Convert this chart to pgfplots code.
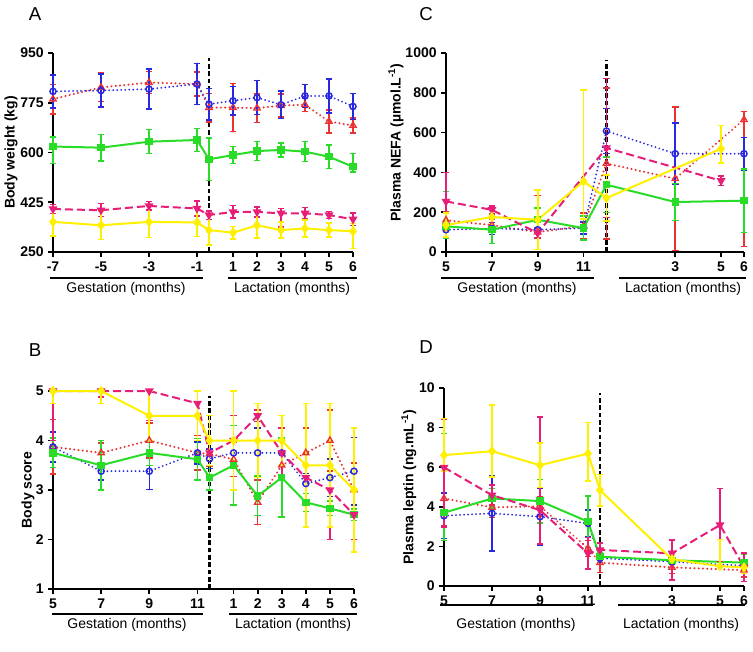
\documentclass[border=0pt]{standalone}
\usepackage{fontspec}
\setmainfont{Liberation Sans}
\usepackage{pgfplots}
\pgfplotsset{compat=1.18}
\definecolor{cblue}{RGB}{40,40,225}
\definecolor{cred}{RGB}{235,50,50}
\definecolor{cgreen}{RGB}{40,220,40}
\definecolor{cpink}{RGB}{230,30,120}
\definecolor{cyellow}{RGB}{255,240,0}
\pgfplotsset{
  gp/.style={scale only axis, anchor=south west, axis lines=left,
    axis line style={-, line width=1.5pt, black},
    tick align=outside, major tick length=3.5pt,
    tick style={black, line width=1.3pt},
    ticklabel style={font=\fontsize{10.5}{12}\selectfont\bfseries},
    /pgf/number format/assume math mode=true, /pgf/number format/1000 sep={},
    clip=false,
    every axis y label/.style={rotate=90, anchor=center, font=\fontsize{10.5}{12}\selectfont\bfseries}},
  ser/.style={color=#1, line width=1.5pt,
    error bars/y dir=both, error bars/y explicit,
    error bars/error bar style={line width=1.2pt, solid, color=#1},
    error bars/error mark options={rotate=90, mark size=2.5pt, line width=1.1pt, solid, color=#1}},
  sblue/.style={ser=cblue, dash pattern=on 0.01pt off 3pt, line cap=round, mark=o, mark size=2.3pt, mark options={solid, fill=white, line width=1.1pt}},
  sred/.style={ser=cred, line width=1.7pt, dash pattern=on 0.01pt off 3.2pt, line cap=round, mark=triangle, mark size=2.7pt, mark options={solid, fill=white, line width=1.0pt}},
  sgreen/.style={ser=cgreen, mark=square*, mark size=2pt, mark options={solid}},
  spink/.style={ser=cpink, dash pattern=on 6pt off 3pt, mark=triangle*, mark size=2.4pt, mark options={solid, rotate=180}},
  syellow/.style={ser=cyellow, mark=diamond*, mark size=2.7pt, mark options={solid},
    error bars/error bar style={line width=1.3pt, solid, color=cyellow}},
  vline/.style={black, line width=1.9pt, dash pattern=on 3.5pt off 2pt, mark=none},
}
\begin{document}
\begin{tikzpicture}
\path[use as bounding box] (0,0) rectangle (564.75pt,488.25pt);
% ---------------- A ----------------
\begin{axis}[gp, at={(39.75pt,299.25pt)}, width=225pt, height=149.25pt,
  xmin=0, xmax=12.5, ymin=250, ymax=950, ytick={250,425,600,775,950},
  xtick={0,2,4,6,7.5,8.5,9.5,10.5,11.5,12.5}, xticklabels={-7,-5,-3,-1,1,2,3,4,5,6},
  ylabel={Body weight (kg)}, ylabel style={at={(axis description cs:-0.14,0.5)}}]
\addplot[vline] coordinates {(6.5,250) (6.5,933)};
\addplot[sred] coordinates {(0,788)+-(0,52) (2,829)+-(0,50) (4,846)+-(0,38) (6,841)+-(0,42) (6.5,758)+-(0,50) (7.5,758)+-(0,85) (8.5,756)+-(0,50) (9.5,765)+-(0,40) (10.5,768)+-(0,24) (11.5,709)+-(0,40) (12.5,695)+-(0,26)};
\addplot[sblue] coordinates {(0,815)+-(0,58) (2,818)+-(0,58) (4,823)+-(0,70) (6,841)+-(0,72) (6.5,770)+-(0,55) (7.5,782)+-(0,50) (8.5,793)+-(0,60) (9.5,768)+-(0,48) (10.5,799)+-(0,40) (11.5,799)+-(0,60) (12.5,762)+-(0,45)};
\addplot[sgreen] coordinates {(0,621)+=(0,33)-=(0,60) (2,617)+-(0,47) (4,638)+-(0,42) (6,644)+-(0,40) (6.5,576)+-(0,75) (7.5,591)+-(0,30) (8.5,605)+-(0,33) (9.5,609)+-(0,25) (10.5,603)+-(0,35) (11.5,585)+-(0,42) (12.5,550)+=(0,47)-=(0,18)};
\addplot[spink] coordinates {(0,401)+-(0,16) (2,397)+-(0,23) (4,412)+-(0,15) (6,403)+-(0,26) (6.5,380)+-(0,15) (7.5,391)+-(0,22) (8.5,391)+-(0,18) (9.5,386)+=(0,17)-=(0,48) (10.5,386)+-(0,20) (11.5,380)+-(0,13) (12.5,365)+-(0,22)};
\addplot[syellow] coordinates {(0,356)+-(0,50) (2,344)+-(0,50) (4,356)+-(0,55) (6,354)+-(0,50) (6.5,327)+-(0,52) (7.5,318)+-(0,22) (8.5,344)+-(0,45) (9.5,327)+-(0,28) (10.5,333)+-(0,30) (11.5,327)+-(0,25) (12.5,323)+=(0,27)-=(0,61)};
\end{axis}
% ---------------- C ----------------
\begin{axis}[gp, at={(334.5pt,299.25pt)}, width=223.5pt, height=149.25pt,
  xmin=0, xmax=13, ymin=0, ymax=1000, ytick={0,200,400,600,800,1000},
  xtick={0,2,4,6,10,12,13}, xticklabels={5,7,9,11,3,5,6},
  ylabel={Plasma NEFA (µmol.L\textsuperscript{-1})}, ylabel style={at={(axis description cs:-0.168,0.55)}}]
\addplot[vline] coordinates {(7,0) (7,966)};
\addplot[sred] coordinates {(0,160)+-(0,40) (2,135)+-(0,30) (4,100)+=(0,185)-=(0,30) (6,130)+-(0,65) (7,445)+-(0,380) (10,368)+-(0,360) (13,665)+=(0,42)-=(0,637)};
\addplot[sblue] coordinates {(0,112)+-(0,45) (2,118)+-(0,30) (4,112)+-(0,40) (6,120)+-(0,30) (7,608)+-(0,112) (10,494)+-(0,155) (13,494)+-(0,82)};
\addplot[sgreen] coordinates {(0,129)+=(0,176)-=(0,60) (2,112)+-(0,70) (4,162)+-(0,60) (6,120)+-(0,60) (7,338)+-(0,140) (10,251)+-(0,92) (13,258)+-(0,160)};
\addplot[spink] coordinates {(0,254)+-(0,145) (2,212)+-(0,20) (4,95)+-(0,25) (7,523)+-(0,350) (12,358)+-(0,25)};
\addplot[syellow] coordinates {(0,135)+-(0,60) (2,176)+-(0,45) (4,162)+-(0,150) (6,355)+=(0,460)-=(0,190) (7,271)+-(0,115) (12,519)+=(0,116)-=(0,72)};
\end{axis}
% ---------------- B ----------------
\begin{axis}[gp, at={(39.75pt,46.5pt)}, width=225.75pt, height=148.5pt,
  xmin=0, xmax=12.5, ymin=1, ymax=5, ytick={1,2,3,4,5},
  xtick={0,2,4,6,7.5,8.5,9.5,10.5,11.5,12.5}, xticklabels={5,7,9,11,1,2,3,4,5,6},
  ylabel={Body score}, ylabel style={at={(axis description cs:-0.083,0.5)}}]
\addplot[vline] coordinates {(6.5,1) (6.5,4.89)};
\addplot[sred] coordinates {(0,3.87)+-(0,0.55) (2,3.75)+-(0,0.2) (4,4.0)+-(0,0.35) (6,3.75)+-(0,0.35) (6.5,3.73)+-(0,0.25) (7.5,3.62)+-(0,0.35) (8.5,2.75)+-(0,0.45) (9.5,3.5)+-(0,0.3) (10.5,3.75)+-(0,0.5) (11.5,4.0)+-(0,0.62) (12.5,3.0)+-(0,0.55)};
\addplot[sblue] coordinates {(0,3.87)+-(0,0.3) (2,3.38)+-(0,0.18) (4,3.38)+-(0,0.37) (6,3.75)+-(0,0.22) (6.5,3.63)+-(0,0.2) (7.5,3.75)+-(0,0.25) (8.5,3.75)+-(0,0.5) (9.5,3.75)+-(0,0.25) (10.5,3.13)+-(0,0.2) (11.5,3.25)+-(0,0.38) (12.5,3.38)+-(0,0.68)};
\addplot[sgreen] coordinates {(0,3.75)+-(0,0.3) (2,3.5)+-(0,0.5) (4,3.75)+-(0,0.25) (6,3.62)+-(0,0.42) (6.5,3.25)+-(0,0.25) (7.5,3.5)+-(0,0.8) (8.5,2.88)+-(0,0.4) (9.5,3.25)+-(0,0.8) (10.5,2.75)+-(0,0.18) (11.5,2.63)+-(0,0.15) (12.5,2.5)+-(0,0.12)};
\addplot[spink] coordinates {(0,5)+=(0,0)-=(0,1.0) (2,5)+=(0,0)-=(0,0.12) (4,5)+=(0,0)-=(0,0.6) (6,4.75)+-(0,0.25) (6.5,3.75)+-(0,0.25) (7.5,4.0)+-(0,0.5) (8.5,4.5)+-(0,0.12) (9.5,3.75)+-(0,0.5) (10.5,3.25)+-(0,0.5) (11.5,3.0)+-(0,1.0) (12.5,2.5)+-(0,0.5)};
\addplot[syellow] coordinates {(0,5)+=(0,0.05)-=(0,0.25) (2,5)+=(0,0.05)-=(0,0.25) (4,4.5)+-(0,0.5) (6,4.5)+-(0,0.5) (6.5,4.0)+-(0,0.5) (7.5,4.0)+-(0,1.0) (8.5,4.0)+-(0,0.75) (9.5,4.0)+-(0,0.5) (10.5,3.5)+-(0,1.25) (11.5,3.5)+-(0,1.25) (12.5,3.0)+-(0,1.25)};
\end{axis}
% ---------------- D ----------------
\begin{axis}[gp, at={(333pt,48.75pt)}, width=225pt, height=148.5pt,
  xmin=0, xmax=12.5, ymin=0, ymax=10, ytick={0,2,4,6,8,10},
  xtick={0,2,4,6,9.5,11.5,12.5}, xticklabels={5,7,9,11,3,5,6},
  ylabel={Plasma leptin (ng.mL\textsuperscript{-1})}, ylabel style={at={(axis description cs:-0.117,0.5)}}]
\addplot[vline] coordinates {(6.5,0) (6.5,9.73)};
\addplot[sred] coordinates {(0,4.42)+-(0,1.4) (2,3.97)+-(0,0.5) (4,4.03)+-(0,0.5) (6,1.9)+-(0,0.4) (6.5,1.18)+-(0,0.5) (9.5,0.94)+-(0,0.3) (12.5,0.8)+-(0,0.35)};
\addplot[sblue] coordinates {(0,3.55)+-(0,1.15) (2,3.67)+-(0,1.9) (4,3.5)+-(0,1.45) (6,3.16)+-(0,0.67) (6.5,1.4)+-(0,0.2) (9.5,1.23)+-(0,0.15) (12.5,1.02)+-(0,0.2)};
\addplot[sgreen] coordinates {(0,3.7)+=(0,4.0)-=(0,1.4) (2,4.42)+-(0,0.5) (4,4.29)+-(0,1.1) (6,3.25)+-(0,1.3) (6.5,1.48)+-(0,0.2) (9.5,1.3)+-(0,0.15) (12.5,1.18)+-(0,0.4)};
\addplot[spink] coordinates {(0,5.99)+=(0,2.45)-=(0,3.0) (2,4.59)+-(0,0.5) (4,3.83)+=(0,4.7)-=(0,1.7) (6,1.65)+-(0,0.8) (6.5,1.82)+-(0,0.35) (9.5,1.65)+=(0,0.67)-=(0,1.35) (11.5,3.08)+-(0,1.85) (12.5,0.95)+-(0,0.72)};
\addplot[syellow] coordinates {(0,6.61)+=(0,1.85)-=(0,0.8) (2,6.81)+=(0,2.32)-=(0,1.3) (4,6.1)+-(0,1.12) (6,6.69)+=(0,1.56)-=(0,1.38) (6.5,4.84)+-(0,0.8) (9.5,1.35)+-(0,0.2) (11.5,1.0)+=(0,1.35)-=(0,0) (12.5,0.94)+-(0,0.3)};
\end{axis}
% ---------------- annotations (pixel coords) ----------------
\begin{scope}[x=0.75pt, y=-0.75pt, yshift=488.25pt, font=\fontsize{10.5}{12}\selectfont]
\draw[line width=1.1pt] (50,278) -- (203,278); \draw[line width=1.1pt] (228,278) -- (357,278);
\node at (126,289) {Gestation (months)}; \node at (292,289) {Lactation (months)};
\draw[line width=1.1pt] (441,278) -- (594,278); \draw[line width=1.1pt] (619,278) -- (746,278);
\node at (517,289) {Gestation (months)}; \node at (683,289) {Lactation (months)};
\draw[line width=1.1pt] (52,614) -- (203,614); \draw[line width=1.1pt] (229,614) -- (357,614);
\node at (127,625) {Gestation (months)}; \node at (293,625) {Lactation (months)};
\draw[line width=1.1pt] (440,605) -- (593,605); \draw[line width=1.1pt] (618,605) -- (745,605);
\node at (516,625) {Gestation (months)}; \node at (681,625) {Lactation (months)};
\node[font=\fontsize{14}{16}\selectfont] at (35,14) {A};
\node[font=\fontsize{14}{16}\selectfont] at (426,14) {C};
\node[font=\fontsize{14}{16}\selectfont] at (35,350) {B};
\node[font=\fontsize{14}{16}\selectfont] at (426,347) {D};
\end{scope}
\end{tikzpicture}
\end{document}
